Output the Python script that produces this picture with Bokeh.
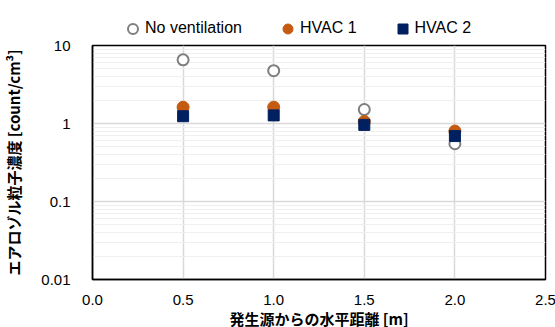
from bokeh.plotting import figure
from bokeh.layouts import column
from bokeh.models import (ColumnDataSource, FixedTicker, Legend, LegendItem,
                          NumeralTickFormatter)
from bokeh.embed import file_html
from bokeh.resources import INLINE

# data
distance = [0.5, 1.0, 1.5, 2.0]
no_vent = [6.55, 4.75, 1.51, 0.55]
hvac1 = [1.62, 1.62, 1.06, 0.80]
hvac2 = [1.24, 1.27, 0.96, 0.69]
y_ticks = [0.01, 0.1, 1, 10]
y_tick_labels = ["0.01", "0.1", "1", "10"]
x_ticks = [0.0, 0.5, 1.0, 1.5, 2.0, 2.5]
series_names = ["No ventilation", "HVAC 1", "HVAC 2"]

FONT = "Liberation Sans"
JFONT = "Noto Sans CJK JP"

styles = [
    dict(marker="circle", fill_color="white", line_color="#7f7f7f", line_width=2),
    dict(marker="circle", fill_color="#C55A11", line_color="#C55A11", line_width=1),
    dict(marker="square", fill_color="#002060", line_color="#002060", line_width=1),
]
sizes = [11, 12, 11]

p = figure(frame_width=453, frame_height=234, output_backend="svg",
           toolbar_location=None, y_axis_type="log", x_range=(0, 2.5),
           y_range=(0.01, 10), min_border_left=82, min_border_right=12,
           min_border_top=10, min_border_bottom=40)

src = ColumnDataSource(dict(x=distance, nv=no_vent, h1=hvac1, h2=hvac2))
for col, st, sz in zip(["nv", "h1", "h2"], styles, sizes):
    p.scatter("x", col, source=src, size=sz, **st)

# y axis
p.yaxis.ticker = FixedTicker(
    ticks=y_ticks,
    minor_ticks=[m * t for t in y_ticks[:-1] for m in range(2, 10)])
p.yaxis.major_label_overrides = {t: l for t, l in zip(y_ticks, y_tick_labels)}
p.yaxis.axis_label = "エアロゾル粒子濃度 [count/cm³]"
# x axis
p.xaxis.ticker = FixedTicker(ticks=x_ticks)
p.xaxis.formatter = NumeralTickFormatter(format="0.0")
p.xaxis.axis_label = "発生源からの水平距離 [m]"

for ax in (p.xaxis[0], p.yaxis[0]):
    ax.major_tick_line_color = None
    ax.minor_tick_line_color = None
    ax.axis_line_color = "black"
    ax.axis_line_width = 1.5
    ax.major_label_text_font = FONT
    ax.major_label_text_font_size = "15px"
    ax.major_label_text_color = "black"
    ax.axis_label_text_font = JFONT
    ax.axis_label_text_font_size = "15px"
    ax.axis_label_text_font_style = "bold"
    ax.axis_label_text_color = "black"

p.yaxis.major_label_standoff = 16
p.yaxis.axis_label_standoff = 14
p.xaxis.major_label_standoff = 9
p.xaxis.axis_label_standoff = 0

p.xgrid.grid_line_color = "#d9d9d9"
p.xgrid.grid_line_width = 1.5
p.ygrid.grid_line_color = "#d9d9d9"
p.ygrid.grid_line_width = 1.5
p.ygrid.minor_grid_line_color = "#efefef"
p.ygrid.minor_grid_line_width = 1

p.outline_line_color = "black"
p.outline_line_width = 1.5

# legend strip above the plot (its ranges keep the series out of view,
# the renderers only supply the legend glyphs)
lg = figure(width=547, height=35, output_backend="svg", toolbar_location=None,
            x_axis_type=None, y_axis_type=None, x_range=(10, 11),
            y_range=(10, 11), min_border=0, outline_line_color=None)
lg.grid.visible = False
lg_renderers = [lg.scatter("x", col, source=src, size=10, **st)
                for col, st in zip(["nv", "h1", "h2"], styles)]
legend = Legend(items=[LegendItem(label=n, renderers=[r])
                       for n, r in zip(series_names, lg_renderers)],
                orientation="horizontal", location=(28, -5.5),
                glyph_width=25, glyph_height=25, label_standoff=-4,
                spacing=33, padding=0, margin=0,
                label_text_font=FONT, label_text_font_size="16px",
                label_text_color="black", label_height=25,
                background_fill_alpha=0, border_line_color=None)
lg.add_layout(legend, "center")

layout = column(lg, p, spacing=0)
open("out.html", "w").write(file_html(layout, INLINE))
